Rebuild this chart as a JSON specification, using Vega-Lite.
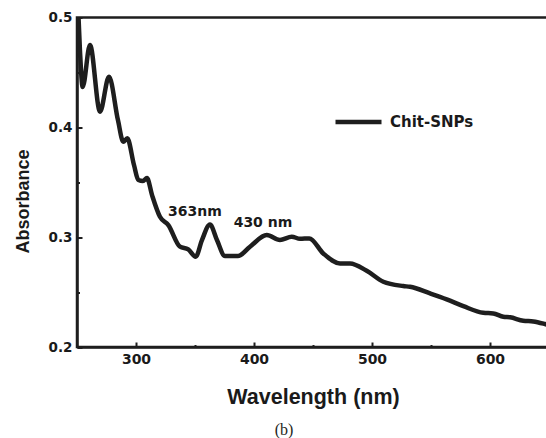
{
  "$schema": "https://vega.github.io/schema/vega-lite/v6.json",
  "width": 472,
  "height": 329.5,
  "autosize": "none",
  "padding": {"left": 77, "top": 17.5, "right": 0, "bottom": 91},
  "background": "white",
  "config": {
    "view": {"stroke": "#1e1e1e", "strokeWidth": 2.5},
    "font": "DejaVu Sans"
  },
  "title": {
    "text": "(b)",
    "orient": "bottom",
    "anchor": "middle",
    "frame": "group",
    "dx": -29,
    "offset": 14,
    "font": "Liberation Serif",
    "fontSize": 16,
    "fontWeight": "normal",
    "color": "#231f20"
  },
  "datasets": {
    "spectrum": [
      {"wl": 250.5, "abs": 0.52, "series": "Chit-SNPs"},
      {"wl": 252.5, "abs": 0.47, "series": "Chit-SNPs"},
      {"wl": 254.8, "abs": 0.4367, "series": "Chit-SNPs"},
      {"wl": 261.0, "abs": 0.475, "series": "Chit-SNPs"},
      {"wl": 269.5, "abs": 0.4142, "series": "Chit-SNPs"},
      {"wl": 277.1, "abs": 0.4461, "series": "Chit-SNPs"},
      {"wl": 284.7, "abs": 0.4066, "series": "Chit-SNPs"},
      {"wl": 289.2, "abs": 0.3869, "series": "Chit-SNPs"},
      {"wl": 292.6, "abs": 0.39, "series": "Chit-SNPs"},
      {"wl": 298.3, "abs": 0.3657, "series": "Chit-SNPs"},
      {"wl": 302.0, "abs": 0.352, "series": "Chit-SNPs"},
      {"wl": 305.9, "abs": 0.3511, "series": "Chit-SNPs"},
      {"wl": 309.3, "abs": 0.3538, "series": "Chit-SNPs"},
      {"wl": 313.6, "abs": 0.3383, "series": "Chit-SNPs"},
      {"wl": 320.3, "abs": 0.3186, "series": "Chit-SNPs"},
      {"wl": 327.4, "abs": 0.311, "series": "Chit-SNPs"},
      {"wl": 337.3, "abs": 0.2913, "series": "Chit-SNPs"},
      {"wl": 344.3, "abs": 0.2889, "series": "Chit-SNPs"},
      {"wl": 350.6, "abs": 0.2822, "series": "Chit-SNPs"},
      {"wl": 355.9, "abs": 0.2974, "series": "Chit-SNPs"},
      {"wl": 362.7, "abs": 0.3115, "series": "Chit-SNPs"},
      {"wl": 368.6, "abs": 0.2974, "series": "Chit-SNPs"},
      {"wl": 375.4, "abs": 0.2828, "series": "Chit-SNPs"},
      {"wl": 386.4, "abs": 0.2828, "series": "Chit-SNPs"},
      {"wl": 396.6, "abs": 0.2913, "series": "Chit-SNPs"},
      {"wl": 410.8, "abs": 0.3019, "series": "Chit-SNPs"},
      {"wl": 422.0, "abs": 0.2974, "series": "Chit-SNPs"},
      {"wl": 432.0, "abs": 0.3004, "series": "Chit-SNPs"},
      {"wl": 439.0, "abs": 0.2985, "series": "Chit-SNPs"},
      {"wl": 446.9, "abs": 0.2989, "series": "Chit-SNPs"},
      {"wl": 458.7, "abs": 0.2852, "series": "Chit-SNPs"},
      {"wl": 472.9, "abs": 0.2761, "series": "Chit-SNPs"},
      {"wl": 481.4, "abs": 0.2761, "series": "Chit-SNPs"},
      {"wl": 495.5, "abs": 0.2694, "series": "Chit-SNPs"},
      {"wl": 509.6, "abs": 0.2594, "series": "Chit-SNPs"},
      {"wl": 526.5, "abs": 0.2555, "series": "Chit-SNPs"},
      {"wl": 532.2, "abs": 0.2548, "series": "Chit-SNPs"},
      {"wl": 549.2, "abs": 0.2488, "series": "Chit-SNPs"},
      {"wl": 563.3, "abs": 0.2434, "series": "Chit-SNPs"},
      {"wl": 577.4, "abs": 0.2372, "series": "Chit-SNPs"},
      {"wl": 594.3, "abs": 0.2311, "series": "Chit-SNPs"},
      {"wl": 602.8, "abs": 0.2306, "series": "Chit-SNPs"},
      {"wl": 611.3, "abs": 0.2275, "series": "Chit-SNPs"},
      {"wl": 617.0, "abs": 0.227, "series": "Chit-SNPs"},
      {"wl": 628.2, "abs": 0.2239, "series": "Chit-SNPs"},
      {"wl": 636.7, "abs": 0.2233, "series": "Chit-SNPs"},
      {"wl": 646.6, "abs": 0.2209, "series": "Chit-SNPs"},
      {"wl": 650.0, "abs": 0.2199, "series": "Chit-SNPs"}
    ],
    "notes": [
      {"wl": 350, "abs": 0.3231, "label": "363nm"},
      {"wl": 407.6, "abs": 0.3131, "label": "430 nm"}
    ]
  },
  "layer": [
    {
      "data": {"name": "spectrum"},
      "mark": {"type": "line", "interpolate": "monotone", "strokeWidth": 4.5, "clip": true},
      "encoding": {
        "x": {
          "field": "wl",
          "type": "quantitative",
          "scale": {"domain": [250, 650], "nice": false, "zero": false},
          "axis": {
            "title": "Wavelength (nm)",
            "values": [300, 350, 400, 450, 500, 550, 600],
            "labelExpr": "datum.value % 100 == 0 ? datum.label : ''",
            "grid": false,
            "domainColor": "#1e1e1e",
            "domainWidth": 2.5,
            "tickColor": "#1e1e1e",
            "tickWidth": 2,
            "tickSize": {"condition": {"test": "datum.value % 100 == 0", "value": -5}, "value": -2.5},
            "labelFont": "DejaVu Sans",
            "labelFontWeight": "bold",
            "labelFontSize": 14,
            "labelColor": "#1a1a1a",
            "labelPadding": 10,
            "titleFont": "Liberation Sans",
            "titleFontWeight": "bold",
            "titleFontSize": 21.5,
            "titleColor": "#1a1a1a",
            "titlePadding": 20
          }
        },
        "y": {
          "field": "abs",
          "type": "quantitative",
          "scale": {"domain": [0.2, 0.5], "nice": false, "zero": false},
          "axis": {
            "title": "Absorbance",
            "values": [0.2, 0.25, 0.3, 0.35, 0.4, 0.45, 0.5],
            "format": ".1f",
            "labelExpr": "abs(datum.value * 10 - round(datum.value * 10)) < 0.01 ? datum.label : ''",
            "grid": false,
            "domainColor": "#1e1e1e",
            "domainWidth": 2.5,
            "tickColor": "#1e1e1e",
            "tickWidth": 2,
            "tickSize": {"condition": {"test": "abs(datum.value * 10 - round(datum.value * 10)) < 0.01", "value": -5}, "value": -2.5},
            "labelFont": "DejaVu Sans",
            "labelFontWeight": "bold",
            "labelFontSize": 13.5,
            "labelColor": "#1a1a1a",
            "labelPadding": 10,
            "titleFont": "Liberation Sans",
            "titleFontWeight": "bold",
            "titleFontSize": 18,
            "titleColor": "#1a1a1a",
            "titlePadding": 16,
            "titleY": 183.5
          }
        },
        "stroke": {
          "field": "series",
          "type": "nominal",
          "scale": {"range": ["#1e1e1e"]},
          "legend": {
            "orient": "none",
            "legendX": 256,
            "legendY": 79,
            "title": null,
            "symbolType": "stroke",
            "symbolSize": 2116,
            "symbolStrokeWidth": 4.5,
            "labelFont": "DejaVu Sans",
            "labelFontWeight": "bold",
            "labelFontSize": 15,
            "labelColor": "#1a1a1a",
            "labelOffset": 6
          }
        }
      }
    },
    {
      "data": {"name": "notes"},
      "mark": {"type": "text", "font": "DejaVu Sans", "fontWeight": "bold", "fontSize": 14, "color": "#1a1a1a", "align": "center", "baseline": "middle"},
      "encoding": {
        "x": {"field": "wl", "type": "quantitative"},
        "y": {"field": "abs", "type": "quantitative"},
        "text": {"field": "label", "type": "nominal"}
      }
    }
  ]
}
